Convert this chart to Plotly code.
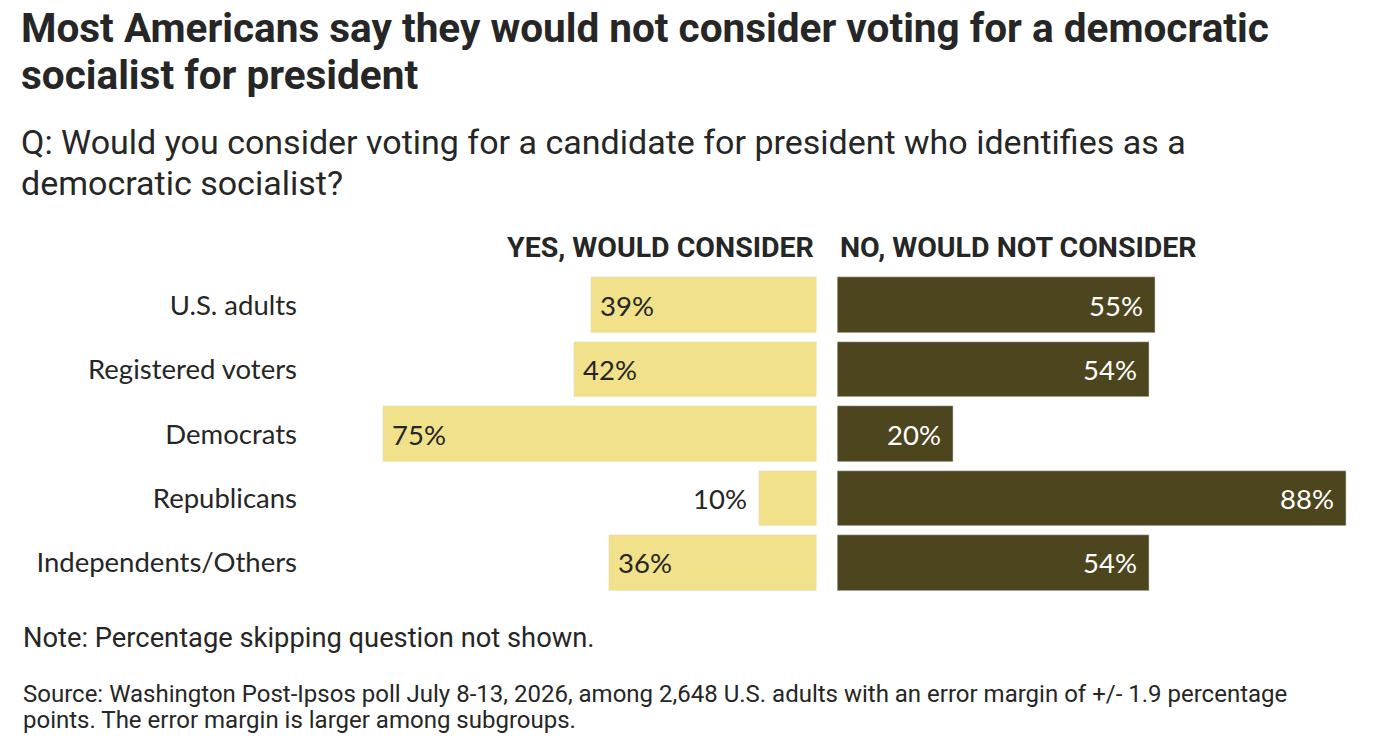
import plotly.graph_objects as go

# poll results
groups = ["U.S. adults", "Registered voters", "Democrats", "Republicans", "Independents/Others"]
yes_pct = [39, 42, 75, 10, 36]
no_pct = [55, 54, 20, 88, 54]

W, H = 1376, 746
TOP, BOT = 273, 595          # plot area in pixels
PXPCT = 5.78                 # pixels per percentage point

def px_x(x):
    return x / W

def px_y(y):
    return (BOT - y) / (BOT - TOP)

yellow = "#f0e18a"
olive = "#4c451d"
ink = "#262626"

fig = go.Figure()
fig.add_trace(go.Bar(y=groups, x=yes_pct, orientation="h", marker_color=yellow,
                     width=0.866, xaxis="x", yaxis="y", hoverinfo="skip"))
fig.add_trace(go.Bar(y=groups, x=no_pct, orientation="h", marker_color=olive,
                     width=0.866, xaxis="x2", yaxis="y", hoverinfo="skip"))

left_end = 816.7
right_start = 837.3

fig.update_layout(
    width=W, height=H,
    margin=dict(l=0, r=0, t=TOP, b=H - BOT),
    paper_bgcolor="white", plot_bgcolor="white",
    showlegend=False, bargap=0,
    xaxis=dict(domain=[0, px_x(left_end)], range=[left_end / PXPCT, 0],
               visible=False, fixedrange=True),
    xaxis2=dict(domain=[px_x(right_start), 1], range=[0, (W - right_start) / PXPCT],
                visible=False, fixedrange=True),
    yaxis=dict(categoryorder="array", categoryarray=groups[::-1],
               anchor="free", position=px_x(297), showgrid=False, zeroline=False,
               showline=False, ticks="", range=[-0.5, len(groups) - 0.5],
               fixedrange=True,
               tickfont=dict(family="Lato", size=27.5, color=ink)),
)

# value labels
for g, v in zip(groups, yes_pct):
    if v >= 15:
        fig.add_annotation(x=v, y=g, xref="x", yref="y", text=f"{v}%", showarrow=False,
                           xanchor="left", xshift=7,
                           font=dict(family="Lato", size=27.5, color=ink))
    else:
        fig.add_annotation(x=v, y=g, xref="x", yref="y", text=f"{v}%", showarrow=False,
                           xanchor="right", xshift=-10,
                           font=dict(family="Lato", size=27.5, color=ink))
for g, v in zip(groups, no_pct):
    fig.add_annotation(x=v, y=g, xref="x2", yref="y", text=f"{v}%", showarrow=False,
                       xanchor="right", xshift=-10,
                       font=dict(family="Lato", size=27.5, color="white"))

# column headers
fig.add_annotation(x=px_x(816), y=px_y(247), xref="paper", yref="paper",
                   text="<b>YES, WOULD CONSIDER</b>", showarrow=False, xanchor="right",
                   yanchor="middle", font=dict(family="Roboto", size=28.5, color=ink))
fig.add_annotation(x=px_x(838), y=px_y(247), xref="paper", yref="paper",
                   text="<b>NO, WOULD NOT CONSIDER</b>", showarrow=False, xanchor="left",
                   yanchor="middle", font=dict(family="Roboto", size=28.5, color=ink))

# title, question, notes (one annotation per line to keep the line spacing)
text_lines = [
    ("<b>Most Americans say they would not consider voting for a democratic</b>", 19, 28, 40.5),
    ("<b>socialist for president</b>", 19, 75, 40.5),
    ("Q: Would you consider voting for a candidate for president who identifies as a", 19, 142, 34),
    ("democratic socialist?", 19, 183, 34),
    ("Note: Percentage skipping question not shown.", 21, 638, 27.3),
    ("Source: Washington Post-Ipsos poll July 8-13, 2026, among 2,648 U.S. adults with an error margin of +/- 1.9 percentage", 21, 694, 24),
    ("points. The error margin is larger among subgroups.", 21, 720, 24),
]
for txt, xpx, ypx, size in text_lines:
    fig.add_annotation(x=px_x(xpx), y=px_y(ypx), xref="paper", yref="paper", align="left",
                       text=txt, showarrow=False, xanchor="left", yanchor="middle",
                       font=dict(family="Roboto", size=size, color=ink))

# drop the default page margin so the figure fills the window
fig.write_html("out.html", config={"displayModeBar": False},
               post_script="document.body.style.margin = '0';")
